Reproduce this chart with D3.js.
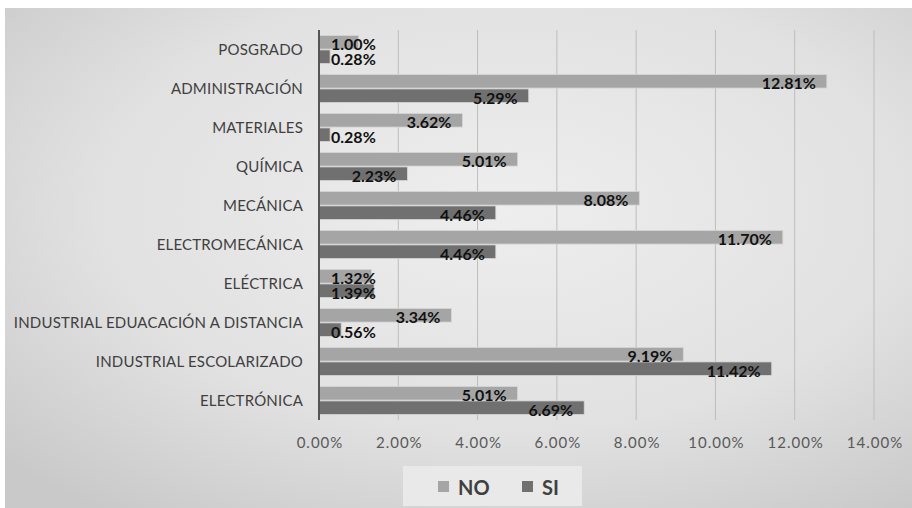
<!DOCTYPE html>
<html>
<head>
<meta charset="utf-8">
<script src="https://cdn.jsdelivr.net/npm/d3@7"></script>
<style>
  html, body { margin: 0; padding: 0; background: #fff; }
  svg { display: block; font-family: Lato, "Open Sans", sans-serif; }
</style>
</head>
<body>
<div id="chart"></div>
<script>
// data, top to bottom
const categories = ["POSGRADO", "ADMINISTRACIÓN", "MATERIALES", "QUÍMICA", "MECÁNICA",
  "ELECTROMECÁNICA", "ELÉCTRICA", "INDUSTRIAL EDUACACIÓN A DISTANCIA",
  "INDUSTRIAL ESCOLARIZADO", "ELECTRÓNICA"];
const noValues = [1.00, 12.81, 3.62, 5.01, 8.08, 11.70, 1.32, 3.34, 9.19, 5.01];
const siValues = [0.28, 5.29, 0.28, 2.23, 4.46, 4.46, 1.39, 0.56, 11.42, 6.69];
const xTicks = [0, 2, 4, 6, 8, 10, 12, 14];
const seriesNames = ["NO", "SI"];
const seriesColors = { NO: "#a5a5a5", SI: "#707070" };

const width = 912, height = 508;
const rows = categories.map((c, i) => ({ cat: c, NO: noValues[i], SI: siValues[i] }));

const svg = d3.select("#chart").append("svg")
  .attr("width", width).attr("height", height);

// gray gradient panel
const defs = svg.append("defs");
const grad = defs.append("radialGradient").attr("id", "bg")
  .attr("cx", "55%").attr("cy", "40%").attr("r", "75%");
grad.append("stop").attr("offset", "0%").attr("stop-color", "#eeeeee");
grad.append("stop").attr("offset", "60%").attr("stop-color", "#e1e1e1");
grad.append("stop").attr("offset", "100%").attr("stop-color", "#c9c9c9");

svg.append("rect").attr("x", 5).attr("y", 8)
  .attr("width", width - 5).attr("height", height - 8)
  .attr("fill", "url(#bg)");

const x = d3.scaleLinear().domain([0, 14]).range([319, 874]);
const y = d3.scaleBand().domain(categories).range([30, 420])
  .paddingInner(0.28).paddingOuter(0.14);
const ySub = d3.scaleBand().domain(seriesNames).range([0, y.bandwidth()]).paddingInner(0.06);

// gridlines
svg.append("g")
  .selectAll("line")
  .data(xTicks.slice(1))
  .join("line")
  .attr("x1", d => x(d)).attr("x2", d => x(d))
  .attr("y1", 30).attr("y2", 420)
  .attr("stroke", "#bdbdbd").attr("stroke-width", 1);

// x tick labels
const xAxis = d3.axisBottom(x).tickValues(xTicks)
  .tickFormat(d => d.toFixed(2) + "%").tickSize(0).tickPadding(0);
const gx = svg.append("g").attr("transform", "translate(0.5,437)").call(xAxis);
gx.select(".domain").remove();
gx.selectAll("text")
  .attr("font-family", "Lato, sans-serif")
  .attr("font-size", 15)
  .attr("letter-spacing", "1px")
  .attr("fill", "#595959");

// category labels
const yAxis = d3.axisLeft(y).tickSize(0).tickPadding(16);
const gy = svg.append("g").attr("transform", "translate(319,0.5)").call(yAxis);
gy.select(".domain").remove();
gy.selectAll("text")
  .attr("font-family", "Lato, sans-serif")
  .attr("font-size", 15)
  .attr("letter-spacing", "0.2px")
  .attr("fill", "#404040");

// bars
const groups = svg.append("g").selectAll("g")
  .data(rows)
  .join("g")
  .attr("transform", d => `translate(0,${y(d.cat)})`);

groups.selectAll("rect")
  .data(d => seriesNames.map(k => ({ key: k, value: d[k] })))
  .join("rect")
  .attr("x", x(0))
  .attr("y", d => ySub(d.key))
  .attr("width", d => x(d.value) - x(0))
  .attr("height", ySub.bandwidth())
  .attr("fill", d => seriesColors[d.key])
  .attr("stroke", "#d6d6d6")
  .attr("stroke-width", 0.8);

// data labels: inside end, pushed to the base when too long
groups.selectAll("text")
  .data(d => seriesNames.map(k => ({ key: k, value: d[k] })))
  .join("text")
  .attr("y", d => ySub(d.key) + ySub.bandwidth() / 2 + 1.5)
  .attr("dominant-baseline", "central")
  .attr("font-family", "Lato, sans-serif")
  .attr("font-weight", "bold")
  .attr("font-size", 16)
  .attr("fill", "#111")
  .text(d => d.value.toFixed(2) + "%")
  .attr("x", function (d) {
    const w = this.getComputedTextLength();
    return Math.max(x(d.value) - 11 - w, x(0) + 12);
  });

// axis line
svg.append("line")
  .attr("x1", x(0)).attr("x2", x(0))
  .attr("y1", 30).attr("y2", 420)
  .attr("stroke", "#555").attr("stroke-width", 2);

// legend
const legend = svg.append("g");
legend.append("rect")
  .attr("x", 403).attr("y", 466).attr("width", 179).attr("height", 40)
  .attr("fill", "#e9e9e9");
const legendX = d3.scaleOrdinal().domain(seriesNames).range([438, 522]);
const li = legend.selectAll("g.item")
  .data(seriesNames)
  .join("g").attr("class", "item")
  .attr("transform", d => `translate(${legendX(d)},481)`);
li.append("rect").attr("width", 11).attr("height", 11)
  .attr("fill", d => seriesColors[d]);
li.append("text")
  .attr("x", 20).attr("y", 6)
  .attr("dominant-baseline", "central")
  .attr("font-family", "Lato, sans-serif")
  .attr("font-weight", "bold")
  .attr("font-size", 20)
  .attr("fill", "#404040")
  .text(d => d);
</script>
</body>
</html>
